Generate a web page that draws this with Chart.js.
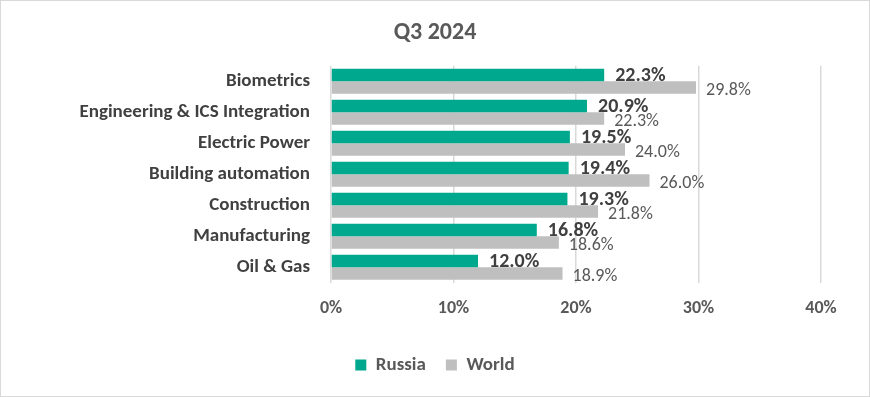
<!DOCTYPE html>
<html>
<head>
<meta charset="utf-8">
<script src="https://cdn.jsdelivr.net/npm/chart.js@4"></script>
<style>
    html, body { margin: 0; padding: 0; background: #fff; }
    #wrap { width: 870px; height: 397px; position: relative; }
</style>
</head>
<body>
<div id="wrap"><canvas id="barChart" width="870" height="397"></canvas></div>
<script>
// Data
const categories = ['Biometrics', 'Engineering & ICS Integration', 'Electric Power', 'Building automation', 'Construction', 'Manufacturing', 'Oil & Gas'];
const russiaValues = [22.3, 20.9, 19.5, 19.4, 19.3, 16.8, 12.0];
const worldValues = [29.8, 22.3, 24.0, 26.0, 21.8, 18.6, 18.9];
const xTicks = [0, 10, 20, 30, 40];

const fontFamily = 'Carlito, Lato, "Open Sans", sans-serif';
const russiaColor = '#00A88E';
const worldColor = '#BFBFBF';

// Value labels next to each bar
const valueLabels = {
    id: 'valueLabels',
    afterDatasetsDraw(chart) {
        const ctx = chart.ctx;
        ctx.save();
        ctx.textBaseline = 'middle';
        ctx.textAlign = 'left';
        chart.data.datasets.forEach((ds, di) => {
            const meta = chart.getDatasetMeta(di);
            meta.data.forEach((bar, i) => {
                if (di === 0) {
                    ctx.font = 'bold 20px ' + fontFamily;
                    ctx.fillStyle = '#404040';
                    ctx.fillText(ds.data[i].toFixed(1) + '%', bar.x + 11, bar.y + 1);
                } else {
                    ctx.font = '18px ' + fontFamily;
                    ctx.fillStyle = '#595959';
                    ctx.fillText(ds.data[i].toFixed(1) + '%', bar.x + 10, bar.y + 3);
                }
            });
        });
        ctx.restore();
    }
};

// Chart frame
const frame = {
    id: 'frame',
    afterDraw(chart) {
        const ctx = chart.ctx;
        ctx.save();
        ctx.strokeStyle = '#D9D9D9';
        ctx.lineWidth = 1;
        ctx.strokeRect(0.5, 0.5, chart.width - 1, chart.height - 1);
        ctx.restore();
    }
};

new Chart(document.getElementById('barChart').getContext('2d'), {
    type: 'bar',
    data: {
        labels: categories,
        datasets: [
            { label: 'Russia', data: russiaValues, backgroundColor: russiaColor },
            { label: 'World', data: worldValues, backgroundColor: worldColor }
        ]
    },
    options: {
        indexAxis: 'y',
        responsive: false,
        animation: false,
        barPercentage: 1,
        categoryPercentage: 0.806,
        layout: { padding: { left: 0, right: 0, top: 0, bottom: 12.6 } },
        plugins: {
            title: {
                display: true,
                text: 'Q3 2024',
                color: '#595959',
                font: { family: fontFamily, size: 24, weight: 'bold' },
                padding: { top: 19, bottom: 18 }
            },
            legend: {
                position: 'bottom',
                labels: {
                    color: '#595959',
                    font: { family: fontFamily, size: 19, weight: 'bold' },
                    boxWidth: 11,
                    boxHeight: 11,
                    padding: 20
                }
            },
            tooltip: { enabled: false }
        },
        scales: {
            x: {
                min: 0,
                max: 40,
                afterBuildTicks(axis) {
                    axis.ticks = xTicks.map(v => ({ value: v }));
                },
                afterFit(axis) {
                    axis.height = 52.6;
                },
                ticks: {
                    callback: v => v + '%',
                    color: '#595959',
                    font: { family: fontFamily, size: 18, weight: 'bold' },
                    padding: 15
                },
                grid: { color: '#D9D9D9', lineWidth: 1.5, drawTicks: false },
                border: { display: false }
            },
            y: {
                afterFit(axis) {
                    axis.width = 331;
                },
                ticks: {
                    color: '#404040',
                    font: { family: fontFamily, size: 19, weight: 'bold' },
                    padding: 13
                },
                grid: { display: false },
                border: { display: false }
            },
            yRight: {
                type: 'category',
                axis: 'y',
                position: 'right',
                afterFit(axis) {
                    axis.width = 49;
                },
                ticks: { display: false },
                grid: { display: false },
                border: { display: false }
            }
        }
    },
    plugins: [valueLabels, frame]
});
</script>
</body>
</html>
